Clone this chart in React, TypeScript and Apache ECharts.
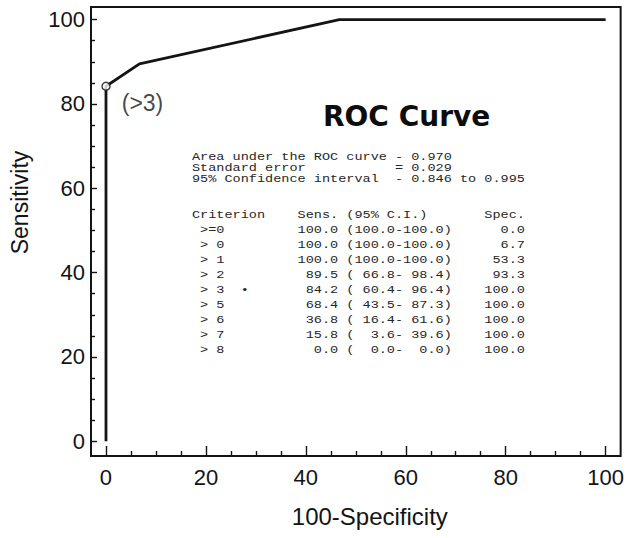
import React, { useEffect, useRef } from "react";
import * as echarts from "echarts";

// Diagnostic test results (MedCalc style ROC table)
const criteria = [">=0", "> 0", "> 1", "> 2", "> 3", "> 5", "> 6", "> 7", "> 8"];
const sensitivity = [100.0, 100.0, 100.0, 89.5, 84.2, 68.4, 36.8, 15.8, 0.0];
const sensLow = [100.0, 100.0, 100.0, 66.8, 60.4, 43.5, 16.4, 3.6, 0.0];
const sensHigh = [100.0, 100.0, 100.0, 98.4, 96.4, 87.3, 61.6, 39.6, 0.0];
const specificity = [0.0, 6.7, 53.3, 93.3, 100.0, 100.0, 100.0, 100.0, 100.0];
const optimalIndex = 4;

const auc = "0.970";
const stdError = "0.029";
const ciLow = "0.846";
const ciHigh = "0.995";

const majorTicks = [0, 20, 40, 60, 80, 100];
const minorTicks = [5, 10, 15, 25, 30, 35, 45, 50, 55, 65, 70, 75, 85, 90, 95];

const fmt = (v: number) => v.toFixed(1);

const summaryLines = [
  `Area under the ROC curve - ${auc}`,
  `Standard error           = ${stdError}`,
  `95% Confidence interval  - ${ciLow} to ${ciHigh}`,
];

const tableLines = [
  "Criterion    Sens. (95% C.I.)       Spec.",
  ...criteria.map(
    (c, i) =>
      ` ${(c + (i === optimalIndex ? "  \u2022" : "")).padEnd(11)}` +
      `${fmt(sensitivity[i]).padStart(6)}` +
      ` (${fmt(sensLow[i]).padStart(5)}-${fmt(sensHigh[i]).padStart(5)})` +
      `${fmt(specificity[i]).padStart(9)}`
  ),
];

export default function App() {
  const ref = useRef<HTMLDivElement>(null);

  useEffect(() => {
    if (!ref.current) return;
    const chart = echarts.init(ref.current, null, { renderer: "svg" });

    const curve = criteria.map((_, i) => [100 - specificity[i], sensitivity[i]]);
    const optimal = [[100 - specificity[optimalIndex], sensitivity[optimalIndex]]];
    const optimalLabel = `(${criteria[optimalIndex].replace(/\s/g, "")})`;

    const axisFont = "'Liberation Sans', Arial, Helvetica, sans-serif";
    const monoFont = "'Liberation Mono', 'DejaVu Sans Mono', monospace";
    const ink = "#141414";

    const xRange = { min: -3, max: 103 };
    const yRange = { min: -3.5, max: 103 };

    // Plain axis: no line (the grid border draws the frame), nothing shown by default
    const bare = (range: { min: number; max: number }, position: string) => ({
      type: "value" as const,
      ...range,
      position,
      axisLine: { show: false, onZero: false },
      splitLine: { show: false },
      axisTick: { show: false },
      axisLabel: { show: false },
    });

    // Axis that only draws inward ticks at the given values
    const tickAxis = (
      range: { min: number; max: number },
      position: string,
      values: number[],
      length: number
    ) => ({
      ...bare(range, position),
      axisTick: {
        show: true,
        inside: true,
        length,
        customValues: values,
        lineStyle: { color: ink, width: 1.4 },
      },
    });

    const labelStyle = {
      show: true,
      customValues: majorTicks,
      fontSize: 22,
      color: ink,
      fontFamily: axisFont,
    };

    chart.setOption({
      animation: false,
      grid: {
        left: 91,
        right: 5,
        top: 7,
        bottom: 82,
        show: true,
        borderColor: ink,
        borderWidth: 2,
      },
      xAxis: [
        {
          ...bare(xRange, "bottom"),
          name: "100-Specificity",
          nameLocation: "middle",
          nameGap: 48,
          nameTextStyle: {
            fontSize: 24,
            color: ink,
            fontFamily: axisFont,
            padding: [0, 0, 0, 28],
          },
          axisLabel: { ...labelStyle, margin: 10 },
        },
        tickAxis(xRange, "bottom", majorTicks, 10),
        tickAxis(xRange, "bottom", minorTicks, 5),
      ],
      yAxis: [
        {
          ...bare(yRange, "left"),
          name: "Sensitivity",
          nameLocation: "middle",
          nameGap: 60,
          nameTextStyle: {
            fontSize: 23,
            color: ink,
            fontFamily: axisFont,
            padding: [0, 0, 0, 58],
          },
          axisLabel: { ...labelStyle, margin: 6 },
        },
        tickAxis(yRange, "left", majorTicks, 6),
        tickAxis(yRange, "left", minorTicks, 4),
      ],
      graphic: [
        {
          type: "text",
          x: 323,
          y: 116,
          style: {
            text: "ROC Curve",
            fontFamily: "'DejaVu Sans', Verdana, sans-serif",
            fontWeight: "bold",
            fontSize: 28,
            fill: "#0d0d0d",
            textVerticalAlign: "middle",
          },
        },
        {
          type: "text",
          x: 192,
          y: 152,
          scaleX: 1.355,
          style: {
            text: summaryLines.join("\n"),
            fontFamily: monoFont,
            fontSize: 10,
            lineHeight: 11,
            fill: "#262626",
            textVerticalAlign: "top",
          },
        },
        {
          type: "text",
          x: 192,
          y: 207.5,
          scaleX: 1.355,
          style: {
            text: tableLines.join("\n"),
            fontFamily: monoFont,
            fontSize: 10,
            lineHeight: 15,
            fill: "#262626",
            textVerticalAlign: "top",
          },
        },
      ],
      series: [
        {
          type: "line",
          xAxisIndex: 0,
          yAxisIndex: 0,
          data: curve,
          symbol: "none",
          lineStyle: { color: ink, width: 2.8 },
          z: 3,
        },
        {
          type: "scatter",
          xAxisIndex: 0,
          yAxisIndex: 0,
          data: optimal,
          symbol: "circle",
          symbolSize: 8,
          itemStyle: { color: "#ffffff", borderColor: ink, borderWidth: 1.5 },
          label: {
            show: true,
            position: "right",
            distance: 11,
            offset: [0, 17],
            formatter: optimalLabel,
            fontSize: 23,
            color: ink,
            fontFamily: axisFont,
          },
          z: 4,
        },
      ],
    });

    return () => chart.dispose();
  }, []);

  return (
    <div
      ref={ref}
      style={{
        position: "absolute",
        left: 0,
        top: 0,
        width: 627,
        height: 538,
        background: "#ffffff",
      }}
    />
  );
}
